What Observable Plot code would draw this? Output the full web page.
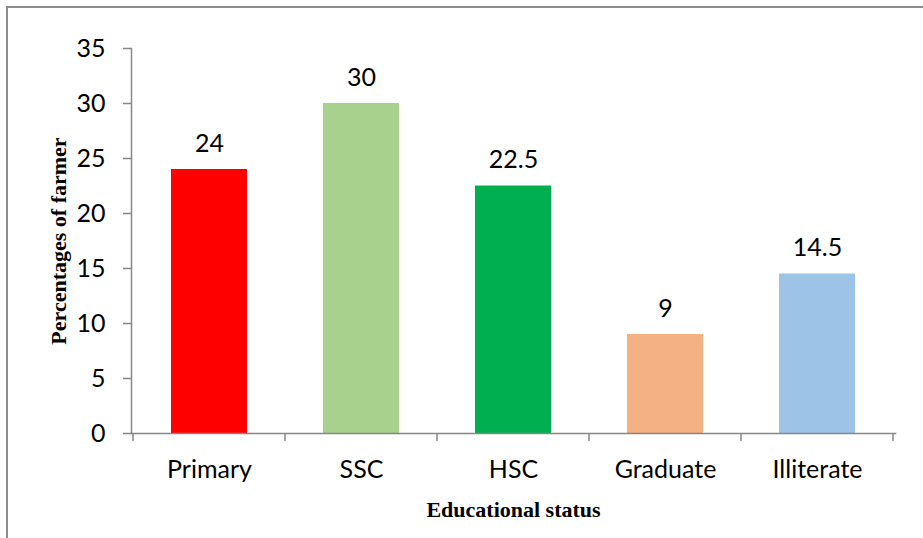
<!DOCTYPE html>
<html>
<head>
<meta charset="utf-8">
<script src="https://cdn.jsdelivr.net/npm/d3@7"></script>
<script src="https://cdn.jsdelivr.net/npm/@observablehq/plot@0.6"></script>
<style>
  body { margin: 0; background: #fff; }
  #wrap { position: relative; width: 923px; height: 538px; overflow: hidden; }
  #border {
    position: absolute; left: 6px; top: 6px; right: 0; bottom: 0;
    border-top: 2px solid #8c8c8c; border-left: 2px solid #8c8c8c;
    pointer-events: none;
  }
</style>
</head>
<body>
<div id="wrap"><div id="border"></div></div>
<script>
// Educational status of farmers (% of respondents)
const categories = ["Primary", "SSC", "HSC", "Graduate", "Illiterate"];
const values = [24, 30, 22.5, 9, 14.5];
const colors = ["#ff0000", "#a9d18e", "#00b050", "#f4b183", "#9dc3e6"];
const yTicks = [0, 5, 10, 15, 20, 25, 30, 35];

const data = categories.map((category, i) => ({category, value: values[i]}));

const axisGray = "#868686";
const sans = "Lato, 'Open Sans', sans-serif";
const serif = "'Liberation Serif', 'DejaVu Serif', serif";
const fs = 25;

const chart = Plot.plot({
  width: 923,
  height: 538,
  marginLeft: 131,
  marginRight: 28,
  marginTop: 48,
  marginBottom: 105,
  style: {background: "transparent", color: "#000", fontFamily: sans},
  x: {domain: categories, paddingInner: 0.5, paddingOuter: 0.25, label: null},
  y: {domain: [0, 35], label: null},
  color: {domain: categories, range: colors},
  marks: [
    Plot.barY(data, {x: "category", y: "value", fill: "category"}),
    Plot.text(data, {
      x: "category", y: "value", text: d => String(d.value),
      dy: -26, fontSize: fs, fill: "#000"
    }),
    Plot.frame({anchor: "left", stroke: axisGray, strokeWidth: 1.5}),
    Plot.frame({anchor: "bottom", stroke: axisGray, strokeWidth: 1.5}),
    Plot.axisY({
      ticks: yTicks, tickSize: 8, tickPadding: 18, stroke: axisGray,
      strokeWidth: 1.5, fontSize: fs, label: null
    }),
    Plot.axisX({tickSize: 0, tickPadding: 27, fontSize: fs, label: null}),
    Plot.text(["Percentages of farmer"], {
      frameAnchor: "left", textAnchor: "middle", rotate: -90, dx: -73,
      fontFamily: serif, fontWeight: "bold", fontSize: 22, fill: "#000"
    }),
    Plot.text(["Educational status"], {
      frameAnchor: "bottom", dy: 83,
      fontFamily: serif, fontWeight: "bold", fontSize: 22, fill: "#000"
    })
  ]
});

// Category separator ticks hanging below the x axis, placed from the band scale
const x = chart.scale("x");
const y = chart.scale("y");
const gap = x.step - x.bandwidth;
const bounds = categories.map(c => x.apply(c) - gap / 2)
  .concat(x.apply(categories[categories.length - 1]) + x.bandwidth + gap / 2);
const y0 = y.apply(0);
d3.select(chart).append("g")
  .attr("stroke", axisGray)
  .attr("stroke-width", 1.5)
  .selectAll("line")
  .data(bounds)
  .join("line")
  .attr("x1", d => d).attr("x2", d => d)
  .attr("y1", y0).attr("y2", y0 + 8);

document.getElementById("wrap").prepend(chart);
</script>
</body>
</html>
